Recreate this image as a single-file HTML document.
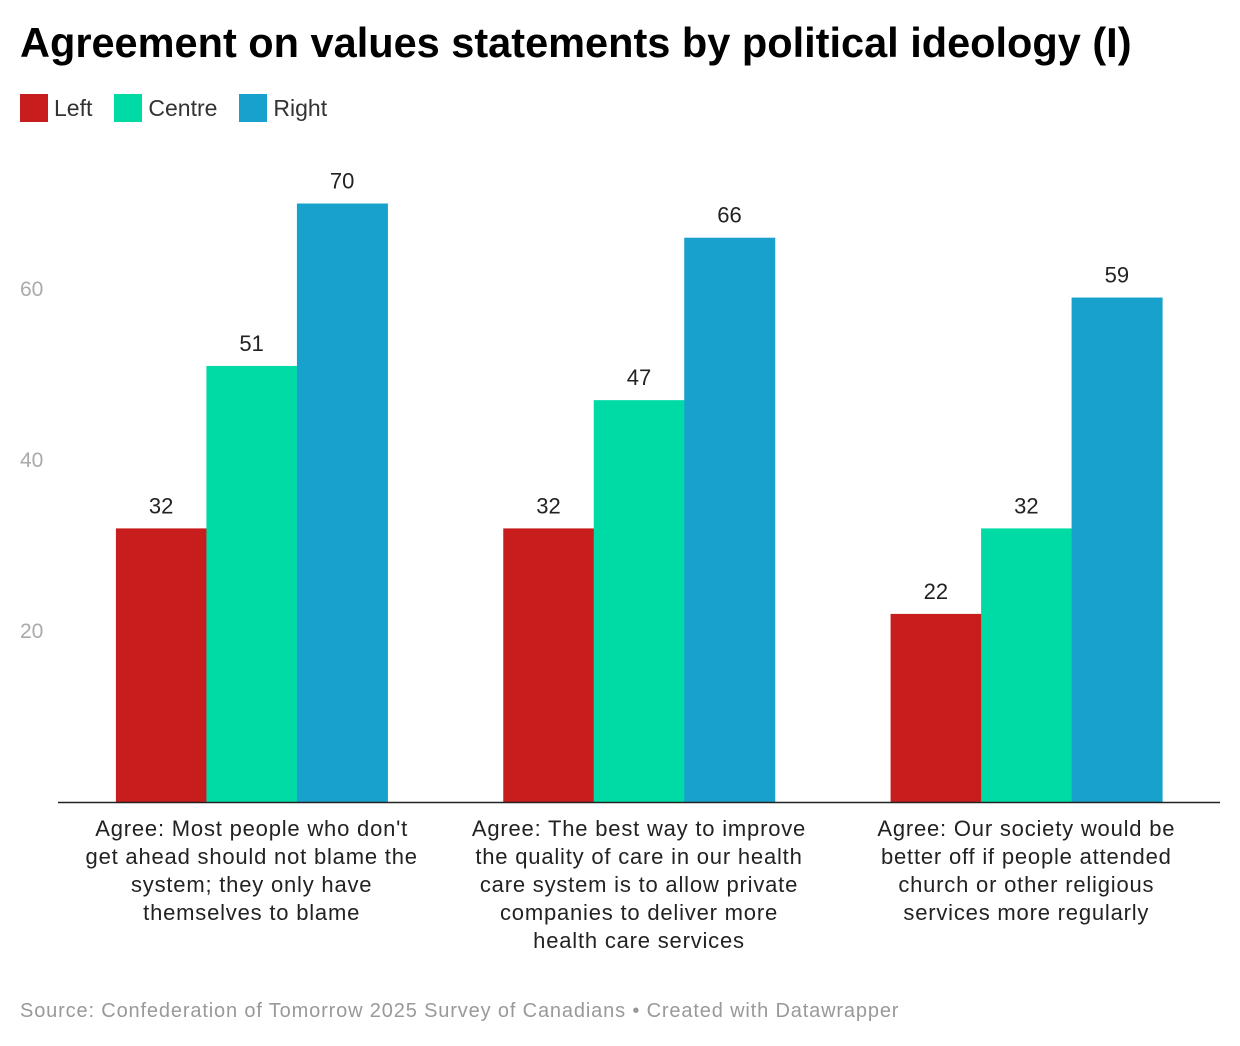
<!DOCTYPE html>
<html><head><meta charset="utf-8">
<style>
body{margin:0;background:#fff;font-family:"Liberation Sans",Arial,sans-serif;}
#wrap{position:relative;width:1240px;height:1046px;overflow:hidden;}
h1{position:absolute;left:20px;top:19px;margin:0;font-size:41.5px;font-weight:bold;color:#000;letter-spacing:0px;}
.legend{position:absolute;top:94px;left:20px;display:flex;font-size:23px;color:#333;}
.li{display:flex;align-items:center;margin-right:22px;}
.sw{width:28px;height:28px;margin-right:6px;}
.src{position:absolute;left:20px;top:1000px;font-size:20px;color:#999;letter-spacing:0.85px;}
</style></head><body>
<div id="wrap">
<h1>Agreement on values statements by political ideology (I)</h1>
<div class="legend">
<div class="li"><div class="sw" style="background:#c71e1d"></div>Left</div>
<div class="li"><div class="sw" style="background:#00dba6"></div>Centre</div>
<div class="li"><div class="sw" style="background:#18a1cd"></div>Right</div>
</div>
<svg id="chart" width="1240" height="1046" style="position:absolute;left:0;top:0"></svg>
<div class="src">Source: Confederation of Tomorrow 2025 Survey of Canadians • Created with Datawrapper</div>
</div>
<script>
const categories=[["Agree: Most people who don't","get ahead should not blame the","system; they only have","themselves to blame"],["Agree: The best way to improve","the quality of care in our health","care system is to allow private","companies to deliver more","health care services"],["Agree: Our society would be","better off if people attended","church or other religious","services more regularly"]];
const seriesNames=["Left","Centre","Right"];
const leftValues=[32,32,22];
const centreValues=[51,47,32];
const rightValues=[70,66,59];
const ticks=[20,40,60];
const colors=["#c71e1d","#00dba6","#18a1cd"];
const NS="http://www.w3.org/2000/svg";
const svg=document.getElementById('chart');
const x0=58,x1=1220,y0=802,pxPer=8.55,barW=90.5;
const band=(x1-x0)/categories.length;
const y=v=>y0-v*pxPer;
const cx=i=>x0+band*(i+0.5);
function mk(tag,attrs){const e=document.createElementNS(NS,tag);for(const k in attrs)e.setAttribute(k,attrs[k]);svg.appendChild(e);return e;}
ticks.forEach(t=>{const e=mk('text',{x:20,y:y(t)+7,'font-size':21,fill:'#aaa','font-family':'Liberation Sans, sans-serif'});e.textContent=t;

});
const all=[leftValues,centreValues,rightValues];
categories.forEach((c,i)=>{
 all.forEach((vals,s)=>{
  const bx=cx(i)+(s-1.5)*barW;
  const r=mk('rect',{x:bx,y:y(vals[i]),width:barW+0.5,height:vals[i]*pxPer,fill:colors[s]});
  
  
  const t=mk('text',{x:bx+barW/2,y:y(vals[i])-15,'text-anchor':'middle','font-size':22,fill:'#222','font-family':'Liberation Sans, sans-serif'});
  t.textContent=vals[i];
  
  
 });
 c.forEach((line,j)=>{const t=mk('text',{x:cx(i),y:836+j*28,'text-anchor':'middle','font-size':22,'letter-spacing':'0.8px',fill:'#222','font-family':'Liberation Sans, sans-serif'});t.textContent=line;
 
 });
});
const ax=mk('line',{x1:x0,x2:x1,y1:y0+0.5,y2:y0+0.5,stroke:'#222','stroke-width':1.5});


</script>
</body></html>
